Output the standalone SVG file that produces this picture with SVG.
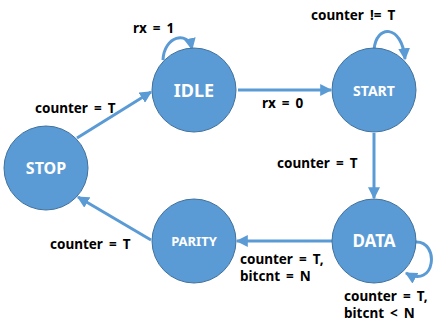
<svg xmlns="http://www.w3.org/2000/svg" width="434" height="322" viewBox="0 0 434 322">
<style>
.n{fill:#5B9BD5;stroke:#41719C;stroke-width:1}
.nt{fill:#fff;font-family:"Noto Sans","Liberation Sans",sans-serif;font-weight:bold;text-anchor:middle}
.e{fill:none;stroke:#5B9BD5;stroke-width:3}
.l{fill:#000;font-family:"Noto Sans","Liberation Sans",sans-serif;font-weight:bold;font-size:13.5px;word-spacing:2.5px}
</style>
<defs>
<marker id="a" viewBox="0 0 10 10" refX="9" refY="5" markerWidth="4" markerHeight="4" orient="auto" markerUnits="strokeWidth">
<path d="M0,0 L10,5 L0,10 z" fill="#5B9BD5"/>
</marker>
</defs>
<g id="connectors">
<line class="e" x1="77" y1="138" x2="151" y2="92" marker-end="url(#a)"/>
<line class="e" x1="238" y1="90" x2="331" y2="90" marker-end="url(#a)"/>
<line class="e" x1="374" y1="133" x2="374" y2="198" marker-end="url(#a)"/>
<line class="e" x1="332" y1="241" x2="237" y2="241" marker-end="url(#a)"/>
<line class="e" x1="151" y1="240" x2="78" y2="197" marker-end="url(#a)"/>
<path class="e" d="M163,60 C164,36 188,30 192,49" marker-end="url(#a)"/>
<path class="e" d="M374,50 C376,24 402,24 405,59" marker-end="url(#a)"/>
<path class="e" d="M415,242 C440,240 436,290 406,273" marker-end="url(#a)"/>
</g>
<g id="idle"><circle class="n" cx="194" cy="90" r="42"/><text class="nt" x="194" y="97" font-size="18">IDLE</text></g>
<g id="start"><circle class="n" cx="374" cy="90" r="42"/><text class="nt" x="374" y="96" font-size="14">START</text></g>
<g id="stop"><circle class="n" cx="46" cy="168" r="42"/><text class="nt" x="46" y="174" font-size="16">STOP</text></g>
<g id="parity"><circle class="n" cx="194" cy="241" r="42"/><text class="nt" x="194" y="246" font-size="13">PARITY</text></g>
<g id="data"><circle class="n" cx="374" cy="241" r="42"/><text class="nt" x="374" y="247" font-size="17">DATA</text></g>
<g id="labels">
<text class="l" x="133" y="33">rx = 1</text>
<text class="l" x="35" y="113">counter = T</text>
<text class="l" x="311" y="20">counter != T</text>
<text class="l" x="262" y="108">rx = 0</text>
<text class="l" x="277" y="168">counter = T</text>
<text class="l" x="50" y="249">counter = T</text>
<text class="l" x="240" y="264">counter = T,</text>
<text class="l" x="240" y="281">bitcnt = N</text>
<text class="l" x="344" y="301">counter = T,</text>
<text class="l" x="344" y="318">bitcnt &lt; N</text>
</g>
</svg>
